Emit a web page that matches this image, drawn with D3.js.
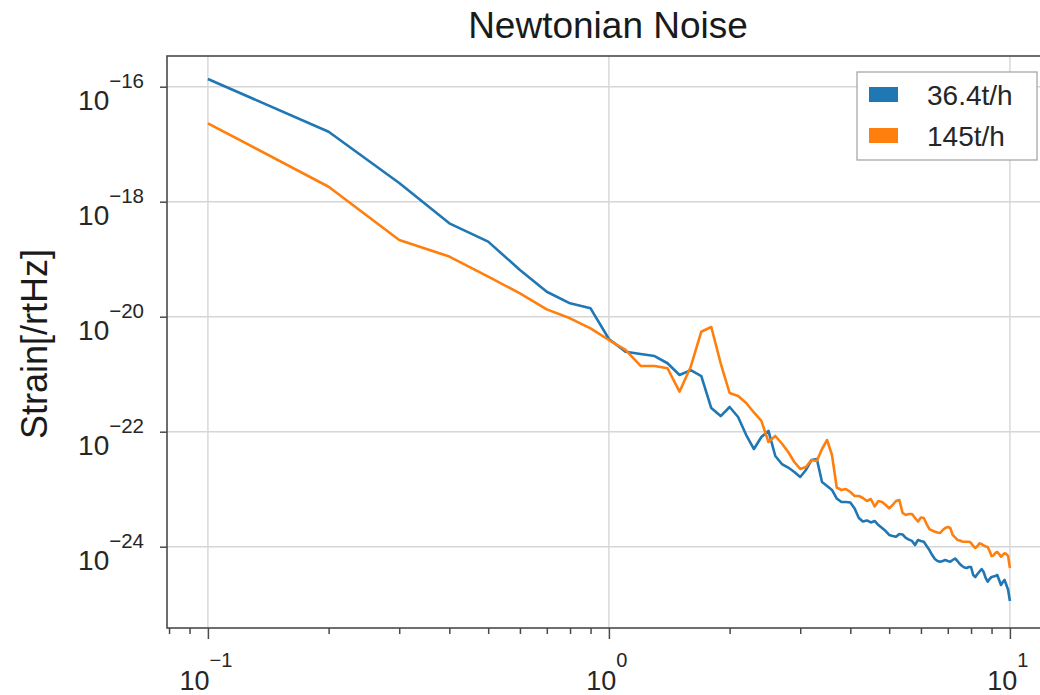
<!DOCTYPE html>
<html>
<head>
<meta charset="utf-8">
<script src="https://cdn.jsdelivr.net/npm/d3@7"></script>
<style>
  html, body { margin: 0; padding: 0; background: #fff; }
  svg { display: block; font-family: "Liberation Sans", Arial, Helvetica, sans-serif; }
</style>
</head>
<body>
<svg id="chart" width="1040" height="695"></svg>
<script>
// Frequency bins [Hz]
const freqs = [
  0.1, 0.2, 0.3, 0.4, 0.5, 0.6, 0.7, 0.8, 0.9,
  1.0, 1.1, 1.2, 1.3, 1.4, 1.5, 1.6, 1.7, 1.8, 1.9,
  2.0, 2.1, 2.2, 2.3, 2.4, 2.5, 2.6, 2.7, 2.8, 2.9,
  3.0, 3.1, 3.2, 3.3, 3.4, 3.5, 3.6, 3.7, 3.8, 3.9,
  4.0, 4.1, 4.2, 4.3, 4.4, 4.5, 4.6, 4.7, 4.8, 4.9,
  5.0, 5.1, 5.2, 5.3, 5.4, 5.5, 5.6, 5.7, 5.8, 5.9,
  6.0, 6.1, 6.2, 6.3, 6.4, 6.5, 6.6, 6.7, 6.8, 6.9,
  7.0, 7.1, 7.2, 7.3, 7.4, 7.5, 7.6, 7.7, 7.8, 7.9,
  8.0, 8.1, 8.2, 8.3, 8.4, 8.5, 8.6, 8.7, 8.8, 8.9,
  9.0, 9.1, 9.2, 9.3, 9.4, 9.5, 9.6, 9.7, 9.8, 9.9,
  10.0
];

// Newtonian noise strain [/rtHz] for a flow of 36.4 t/h
const strain36 = [
  1.36e-16, 1.65e-17, 2.11e-18, 4.21e-19, 2.02e-19, 6.49e-20, 2.72e-20, 1.71e-20, 1.40e-20,
  4.09e-21, 2.46e-21, 2.25e-21, 2.07e-21, 1.55e-21, 9.69e-22, 1.18e-21, 9.30e-22, 2.58e-22, 1.87e-22,
  2.69e-22, 1.80e-22, 8.76e-23, 5.00e-23, 8.09e-23, 1.03e-22, 3.78e-23, 2.74e-23, 2.38e-23, 1.99e-23,
  1.63e-23, 2.16e-23, 3.22e-23, 3.35e-23, 1.33e-23, 1.14e-23, 9.69e-24, 6.89e-24, 5.99e-24, 5.99e-24,
  5.87e-24, 4.62e-24, 3.16e-24, 2.74e-24, 2.86e-24, 2.64e-24, 2.80e-24, 2.38e-24, 2.11e-24, 1.87e-24,
  1.60e-24, 1.54e-24, 1.49e-24, 1.66e-24, 1.63e-24, 1.42e-24, 1.33e-24, 1.26e-24, 1.07e-24, 1.31e-24,
  1.26e-24, 1.22e-24, 1.03e-24, 8.76e-25, 7.17e-25, 6.11e-25, 5.64e-25, 5.48e-25, 5.64e-25, 5.87e-25,
  5.64e-25, 5.48e-25, 5.87e-25, 6.23e-25, 5.64e-25, 5.00e-25, 4.62e-25, 4.35e-25, 4.26e-25, 4.44e-25,
  4.44e-25, 3.22e-25, 2.97e-25, 3.35e-25, 3.70e-25, 4.09e-25, 3.63e-25, 2.86e-25, 2.46e-25, 2.74e-25,
  2.97e-25, 3.03e-25, 3.09e-25, 3.22e-25, 2.64e-25, 2.16e-25, 2.43e-25, 2.64e-25, 2.16e-25, 1.77e-25,
  1.14e-25
];

// Newtonian noise strain [/rtHz] for a flow of 145 t/h
const strain145 = [
  2.31e-17, 1.82e-18, 2.16e-19, 1.11e-19, 4.96e-20, 2.55e-20, 1.34e-20, 9.38e-21, 6.28e-21,
  3.93e-21, 2.64e-21, 1.39e-21, 1.39e-21, 1.27e-21, 4.96e-22, 1.35e-21, 5.48e-21, 6.62e-21, 1.55e-21,
  4.71e-22, 4.18e-22, 3.16e-22, 2.16e-22, 1.54e-22, 6.62e-23, 8.42e-23, 6.23e-23, 4.44e-23, 2.97e-23,
  2.25e-23, 2.43e-23, 3.22e-23, 3.09e-23, 5.00e-23, 7.17e-23, 3.93e-23, 1.07e-23, 9.69e-24, 1.01e-23,
  8.94e-24, 7.61e-24, 7.61e-24, 7.03e-24, 6.23e-24, 6.75e-24, 5.00e-24, 6.23e-24, 5.99e-24, 5.31e-24,
  4.65e-24, 5.31e-24, 6.23e-24, 6.49e-24, 3.86e-24, 3.56e-24, 3.70e-24, 3.70e-24, 3.16e-24, 2.74e-24,
  3.22e-24, 3.16e-24, 2.48e-24, 2.03e-24, 1.91e-24, 1.82e-24, 1.77e-24, 1.73e-24, 1.95e-24, 2.11e-24,
  2.20e-24, 2.11e-24, 1.60e-24, 1.45e-24, 1.31e-24, 1.28e-24, 1.23e-24, 1.22e-24, 1.22e-24, 1.22e-24,
  1.16e-24, 1.03e-24, 9.49e-25, 1.03e-24, 1.14e-24, 1.11e-24, 1.05e-24, 1.01e-24, 9.88e-25, 8.42e-25,
  6.89e-25, 7.03e-25, 7.77e-25, 8.09e-25, 7.46e-25, 6.70e-25, 7.17e-25, 7.68e-25, 7.46e-25, 6.89e-25,
  4.26e-25
];

const seriesLabels = ["36.4t/h", "145t/h"];
const seriesColors = ["#1f77b4", "#ff7f0e"];

const xMajorTicks = [0.1, 1, 10];
const xMinorTicks = [0.08, 0.09, 0.2, 0.3, 0.4, 0.5, 0.6, 0.7, 0.8, 0.9, 2, 3, 4, 5, 6, 7, 8, 9];
const yMajorTicks = [1e-16, 1e-18, 1e-20, 1e-22, 1e-24];

const titleText = "Newtonian Noise";
const yLabelText = "Strain[/rtHz]";

// ---- layout ----
const svg = d3.select("#chart");
const plot = { left: 167, top: 56, right: 1050, bottom: 628 };

const x = d3.scaleLog()
  .domain([Math.pow(10, -1.102), Math.pow(10, 1.1)])
  .range([plot.left, plot.right]);

const y = d3.scaleLog()
  .domain([Math.pow(10, -25.414), Math.pow(10, -15.466)])
  .range([plot.bottom, plot.top]);

const textColor = "#262626";
const spineColor = "#4a4a4a";
const gridColor = "#d6d6d6";

// grid
const grid = svg.append("g");
grid.selectAll("line.gx").data(xMajorTicks).join("line")
  .attr("x1", d => x(d)).attr("x2", d => x(d))
  .attr("y1", plot.top).attr("y2", plot.bottom)
  .attr("stroke", gridColor).attr("stroke-width", 1.4);
grid.selectAll("line.gy").data(yMajorTicks).join("line")
  .attr("x1", plot.left).attr("x2", plot.right)
  .attr("y1", d => y(d)).attr("y2", d => y(d))
  .attr("stroke", gridColor).attr("stroke-width", 1.4);

// series lines
svg.append("defs").append("clipPath").attr("id", "plotclip")
  .append("rect").attr("x", plot.left).attr("y", plot.top)
  .attr("width", plot.right - plot.left).attr("height", plot.bottom - plot.top);

const line = d3.line().x(d => x(d[0])).y(d => y(d[1]));
const series = [strain36, strain145];
svg.append("g").attr("clip-path", "url(#plotclip)")
  .selectAll("path").data(series).join("path")
  .attr("d", s => line(freqs.map((f, i) => [f, s[i]])))
  .attr("fill", "none")
  .attr("stroke", (s, i) => seriesColors[i])
  .attr("stroke-width", 2.6)
  .attr("stroke-linejoin", "round")
  .attr("stroke-linecap", "butt");

// axes (tick marks only, labels drawn with superscripts below)
const xMajorAxis = svg.append("g").attr("transform", `translate(0,${plot.bottom})`)
  .call(d3.axisBottom(x).tickValues(xMajorTicks).tickSize(11).tickFormat(""));
const xMinorAxis = svg.append("g").attr("transform", `translate(0,${plot.bottom})`)
  .call(d3.axisBottom(x).tickValues(xMinorTicks).tickSize(6).tickFormat(""));
const yAxis = svg.append("g").attr("transform", `translate(${plot.left},0)`)
  .call(d3.axisLeft(y).tickValues(yMajorTicks).tickSize(7).tickFormat(""));

[xMajorAxis, xMinorAxis, yAxis].forEach(g => {
  g.select(".domain").remove();
  g.selectAll(".tick line").attr("stroke", spineColor).attr("stroke-width", 1.5);
});

// spines
svg.append("rect")
  .attr("x", plot.left).attr("y", plot.top)
  .attr("width", plot.right - plot.left).attr("height", plot.bottom - plot.top)
  .attr("fill", "none").attr("stroke", spineColor).attr("stroke-width", 1.6);

const expOf = d => String(Math.round(Math.log10(d))).replace("-", "\u2212");

// x tick labels: 10^n
svg.append("g").selectAll("text").data(xMajorTicks).join("text")
  .attr("x", d => x(d) - 2).attr("y", 690)
  .attr("text-anchor", "middle")
  .attr("fill", textColor)
  .attr("font-size", 27)
  .each(function(d) {
    const t = d3.select(this);
    t.append("tspan").text("10");
    t.append("tspan").attr("dy", -23).attr("font-size", 20).text(expOf(d));
  });

// y tick labels: 10^n
svg.append("g").selectAll("text").data(yMajorTicks).join("text")
  .attr("x", 144).attr("y", d => y(d) + 23)
  .attr("text-anchor", "end")
  .attr("fill", textColor)
  .attr("font-size", 28)
  .each(function(d) {
    const t = d3.select(this);
    t.append("tspan").text("10");
    t.append("tspan").attr("dy", -22).attr("font-size", 20.5).text(expOf(d));
  });

// title
svg.append("text")
  .attr("x", 608).attr("y", 38)
  .attr("text-anchor", "middle")
  .attr("fill", "#1a1a1a")
  .attr("font-size", 37)
  .text(titleText);

// y-axis label
svg.append("text")
  .attr("transform", `translate(47,${(plot.top + plot.bottom) / 2 + 2}) rotate(-90)`)
  .attr("text-anchor", "middle")
  .attr("fill", "#1a1a1a")
  .attr("font-size", 36)
  .text(yLabelText);

// legend
const legend = svg.append("g");
legend.append("rect")
  .attr("x", 857).attr("y", 72).attr("width", 180).attr("height", 88)
  .attr("fill", "#fff").attr("stroke", "#a8a8a8").attr("stroke-width", 1.3);
const items = legend.selectAll("g.item").data(seriesLabels).join("g")
  .attr("transform", (d, i) => `translate(0,${i * 41})`);
items.append("rect")
  .attr("x", 869).attr("y", 87).attr("width", 29).attr("height", 15)
  .attr("fill", (d, i) => seriesColors[i]);
items.append("text")
  .attr("x", 927).attr("y", 104.5)
  .attr("fill", textColor)
  .attr("font-size", 28)
  .text(d => d);
</script>
</body>
</html>
